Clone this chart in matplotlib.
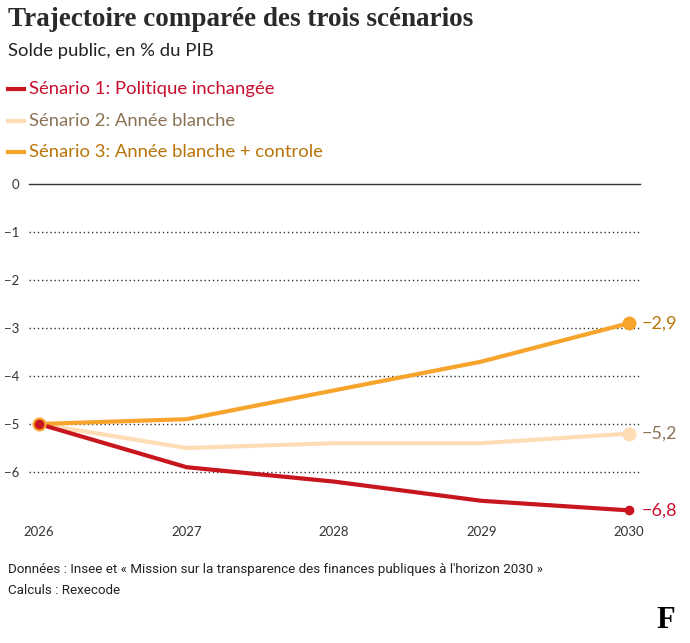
import matplotlib.pyplot as plt

W, H = 690, 643

years = [2026, 2027, 2028, 2029, 2030]
scen1 = [-5.0, -5.9, -6.2, -6.6, -6.8]
scen2 = [-5.0, -5.5, -5.4, -5.4, -5.2]
scen3 = [-5.0, -4.9, -4.3, -3.7, -2.9]
labels = ["Sénario 1: Politique inchangée",
          "Sénario 2: Année blanche",
          "Sénario 3: Année blanche + controle"]
end_labels = ["\u22126,8", "\u22125,2", "\u22122,9"]
yticks = [0, -1, -2, -3, -4, -5, -6]

c_red = "#c8161e"
c_light = "#fedcb6"
c_orange = "#f7a42c"
t_red = "#c8102e"
t_light = "#8c7355"
t_orange = "#b97408"

sans = "Lato"


def fx(x):
    return x / W


def fy(y):
    return 1 - y / H


fig = plt.figure(figsize=(W / 100, H / 100), dpi=100)

# axes area in pixels: x 29..640, y 184..520
ax = fig.add_axes([fx(29), fy(520), fx(640) - fx(29), (520 - 184) / H])
ax.set_xlim(2026 - 10 / 147.5, 2030 + 11 / 147.5)
ax.set_ylim(-7.0, 0)
for s in ax.spines.values():
    s.set_visible(False)

for v in yticks:
    if v == 0:
        ax.axhline(0, color="#333333", lw=1.0, zorder=1, clip_on=False)
    else:
        ax.axhline(v, color="#333333", lw=1.0, ls=(0, (1, 2)), zorder=1)

series = [(scen2, c_light, t_light, 10, end_labels[1]),
          (scen3, c_orange, t_orange, 10, end_labels[2]),
          (scen1, c_red, t_red, 7, end_labels[0])]
for vals, col, tcol, ms, txt in series:
    ax.plot(years, vals, color=col, lw=3, zorder=3, clip_on=False, solid_capstyle="round")
    ax.plot([years[0], years[-1]], [vals[0], vals[-1]], "o", color=col, ms=ms,
            mec="none", zorder=4, clip_on=False)
    ax.annotate(txt, (years[-1], vals[-1]), xytext=(9, 0),
                textcoords="offset points", va="center", ha="left",
                color=tcol, fontsize=13, family=sans)

ax.set_yticks(yticks)
ax.set_yticklabels(["0" if v == 0 else "\u2212%d" % -v for v in yticks])
ax.set_xticks(years)
ax.set_xticklabels([str(y) for y in years])
ax.tick_params(axis="both", length=0, labelsize=9.5, labelcolor="#333333")
ax.tick_params(axis="y", pad=7)
ax.tick_params(axis="x", pad=4)
for lab in ax.get_xticklabels() + ax.get_yticklabels():
    lab.set_family(sans)

# title & subtitle
fig.text(fx(8), fy(19), "Trajectoire comparée des trois scénarios", ha="left", va="center",
         fontsize=19.5, fontweight="bold", family="Liberation Serif", color="#2a2a2a")
fig.text(fx(8), fy(51), "Solde public, en % du PIB", ha="left", va="center",
         fontsize=13.3, family=sans, color="#222222")

# legend
for i, (lab, col, tcol) in enumerate(zip(labels, [c_red, c_light, c_orange], [t_red, t_light, t_orange])):
    ypos = 89 + i * 31.5
    fig.add_artist(plt.Line2D([fx(8), fx(24)], [fy(ypos), fy(ypos)], color=col, lw=3))
    fig.text(fx(29), fy(ypos), lab, ha="left", va="center", fontsize=13.3, family=sans, color=tcol)

# footer
fig.text(fx(8), fy(569), "Données : Insee et \u00ab Mission sur la transparence des finances publiques à l'horizon 2030 \u00bb",
         ha="left", va="center", fontsize=9.6, family="Roboto", color="#222222")
fig.text(fx(8), fy(591), "Calculs : Rexecode", ha="left", va="center", fontsize=9.6,
         family="Roboto", color="#222222")
fig.text(fx(666), fy(620), "F", ha="center", va="center", fontsize=22, fontweight="bold",
         family="Liberation Serif", color="black")

fig.savefig("out.png", dpi=100)
